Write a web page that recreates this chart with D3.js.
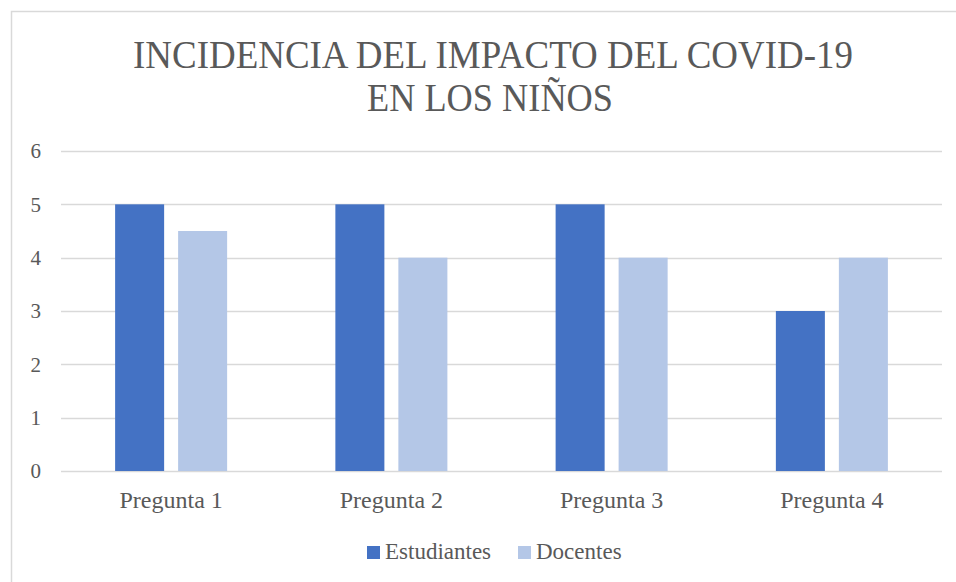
<!DOCTYPE html>
<html>
<head>
<meta charset="utf-8">
<script src="https://cdn.jsdelivr.net/npm/d3@7"></script>
<style>
body { margin: 0; background: #fff; }
svg text { font-family: "Liberation Serif", "Times New Roman", serif; fill: #595959; }
</style>
</head>
<body>
<svg id="chart" width="956" height="582"></svg>
<script>
// data
var categories = ["Pregunta 1", "Pregunta 2", "Pregunta 3", "Pregunta 4"];
var seriesNames = ["Estudiantes", "Docentes"];
var estudiantes = [5, 5, 5, 3];
var docentes = [4.5, 4, 4, 4];
var yTicks = [0, 1, 2, 3, 4, 5, 6];
var colors = ["#4472C4", "#B4C7E7"];

var svg = d3.select("#chart");

// chart frame (only top and left edges are in view)
svg.append("path")
	.attr("d", "M11.5,582 L11.5,11.5 L956,11.5")
	.attr("fill", "none")
	.attr("stroke", "#d9d9d9")
	.attr("stroke-width", 1.5);

// title
var title = svg.append("text")
	.attr("text-anchor", "middle")
	.attr("font-size", 39);
title.append("tspan").attr("x", 493).attr("y", 68)
	.attr("textLength", 720).attr("lengthAdjust", "spacingAndGlyphs")
	.text("INCIDENCIA DEL IMPACTO DEL COVID-19");
title.append("tspan").attr("x", 490).attr("y", 111)
	.attr("textLength", 246).attr("lengthAdjust", "spacingAndGlyphs")
	.text("EN LOS NIÑOS");

var x0 = d3.scaleBand().domain(categories).range([61, 942]);
var x1 = d3.scaleBand().domain(seriesNames).range([0, x0.bandwidth()])
	.paddingInner(0.222).paddingOuter(0.859);
var y = d3.scaleLinear().domain([0, 6]).range([471, 151]);

// gridlines
svg.append("g").selectAll("line")
	.data(yTicks)
	.enter().append("line")
	.attr("x1", 61).attr("x2", 942)
	.attr("y1", function(d){ return Math.round(y(d)) + 0.5; })
	.attr("y2", function(d){ return Math.round(y(d)) + 0.5; })
	.attr("stroke", "#d9d9d9")
	.attr("stroke-width", 1.3);

// y axis labels
var yAxis = d3.axisLeft(y).tickValues(yTicks).tickSize(0).tickPadding(0).tickFormat(d3.format("d"));
var gy = svg.append("g").attr("transform", "translate(41,0)").call(yAxis);
gy.select(".domain").remove();
gy.selectAll("text").attr("font-size", 21).attr("fill", "#595959")
	.attr("font-family", "Liberation Serif, serif");

// bars
var rows = categories.map(function(c, i){ return { cat: c, vals: [estudiantes[i], docentes[i]] }; });
var groups = svg.append("g").selectAll("g")
	.data(rows)
	.enter().append("g")
	.attr("transform", function(d){ return "translate(" + x0(d.cat) + ",0)"; });
groups.selectAll("rect")
	.data(function(d){ return d.vals.map(function(v, j){ return { name: seriesNames[j], value: v, idx: j }; }); })
	.enter().append("rect")
	.attr("x", function(d){ return x1(d.name); })
	.attr("width", x1.bandwidth())
	.attr("y", function(d){ return y(d.value); })
	.attr("height", function(d){ return y(0) - y(d.value); })
	.attr("fill", function(d){ return colors[d.idx]; });

// x axis labels
var xAxis = d3.axisBottom(x0).tickSize(0).tickPadding(0);
var gx = svg.append("g").attr("transform", "translate(0,491)").call(xAxis);
gx.select(".domain").remove();
gx.selectAll("text").attr("font-size", 24).attr("fill", "#595959")
	.attr("font-family", "Liberation Serif, serif");

// legend
var legendX = [367, 518];
var legend = svg.append("g").selectAll("g")
	.data(seriesNames)
	.enter().append("g")
	.attr("transform", function(d, i){ return "translate(" + legendX[i] + ",546)"; });
legend.append("rect")
	.attr("width", 13).attr("height", 13)
	.attr("fill", function(d, i){ return colors[i]; });
legend.append("text")
	.attr("x", 18).attr("y", 13)
	.attr("font-size", 23)
	.text(function(d){ return d; });
</script>
</body>
</html>
